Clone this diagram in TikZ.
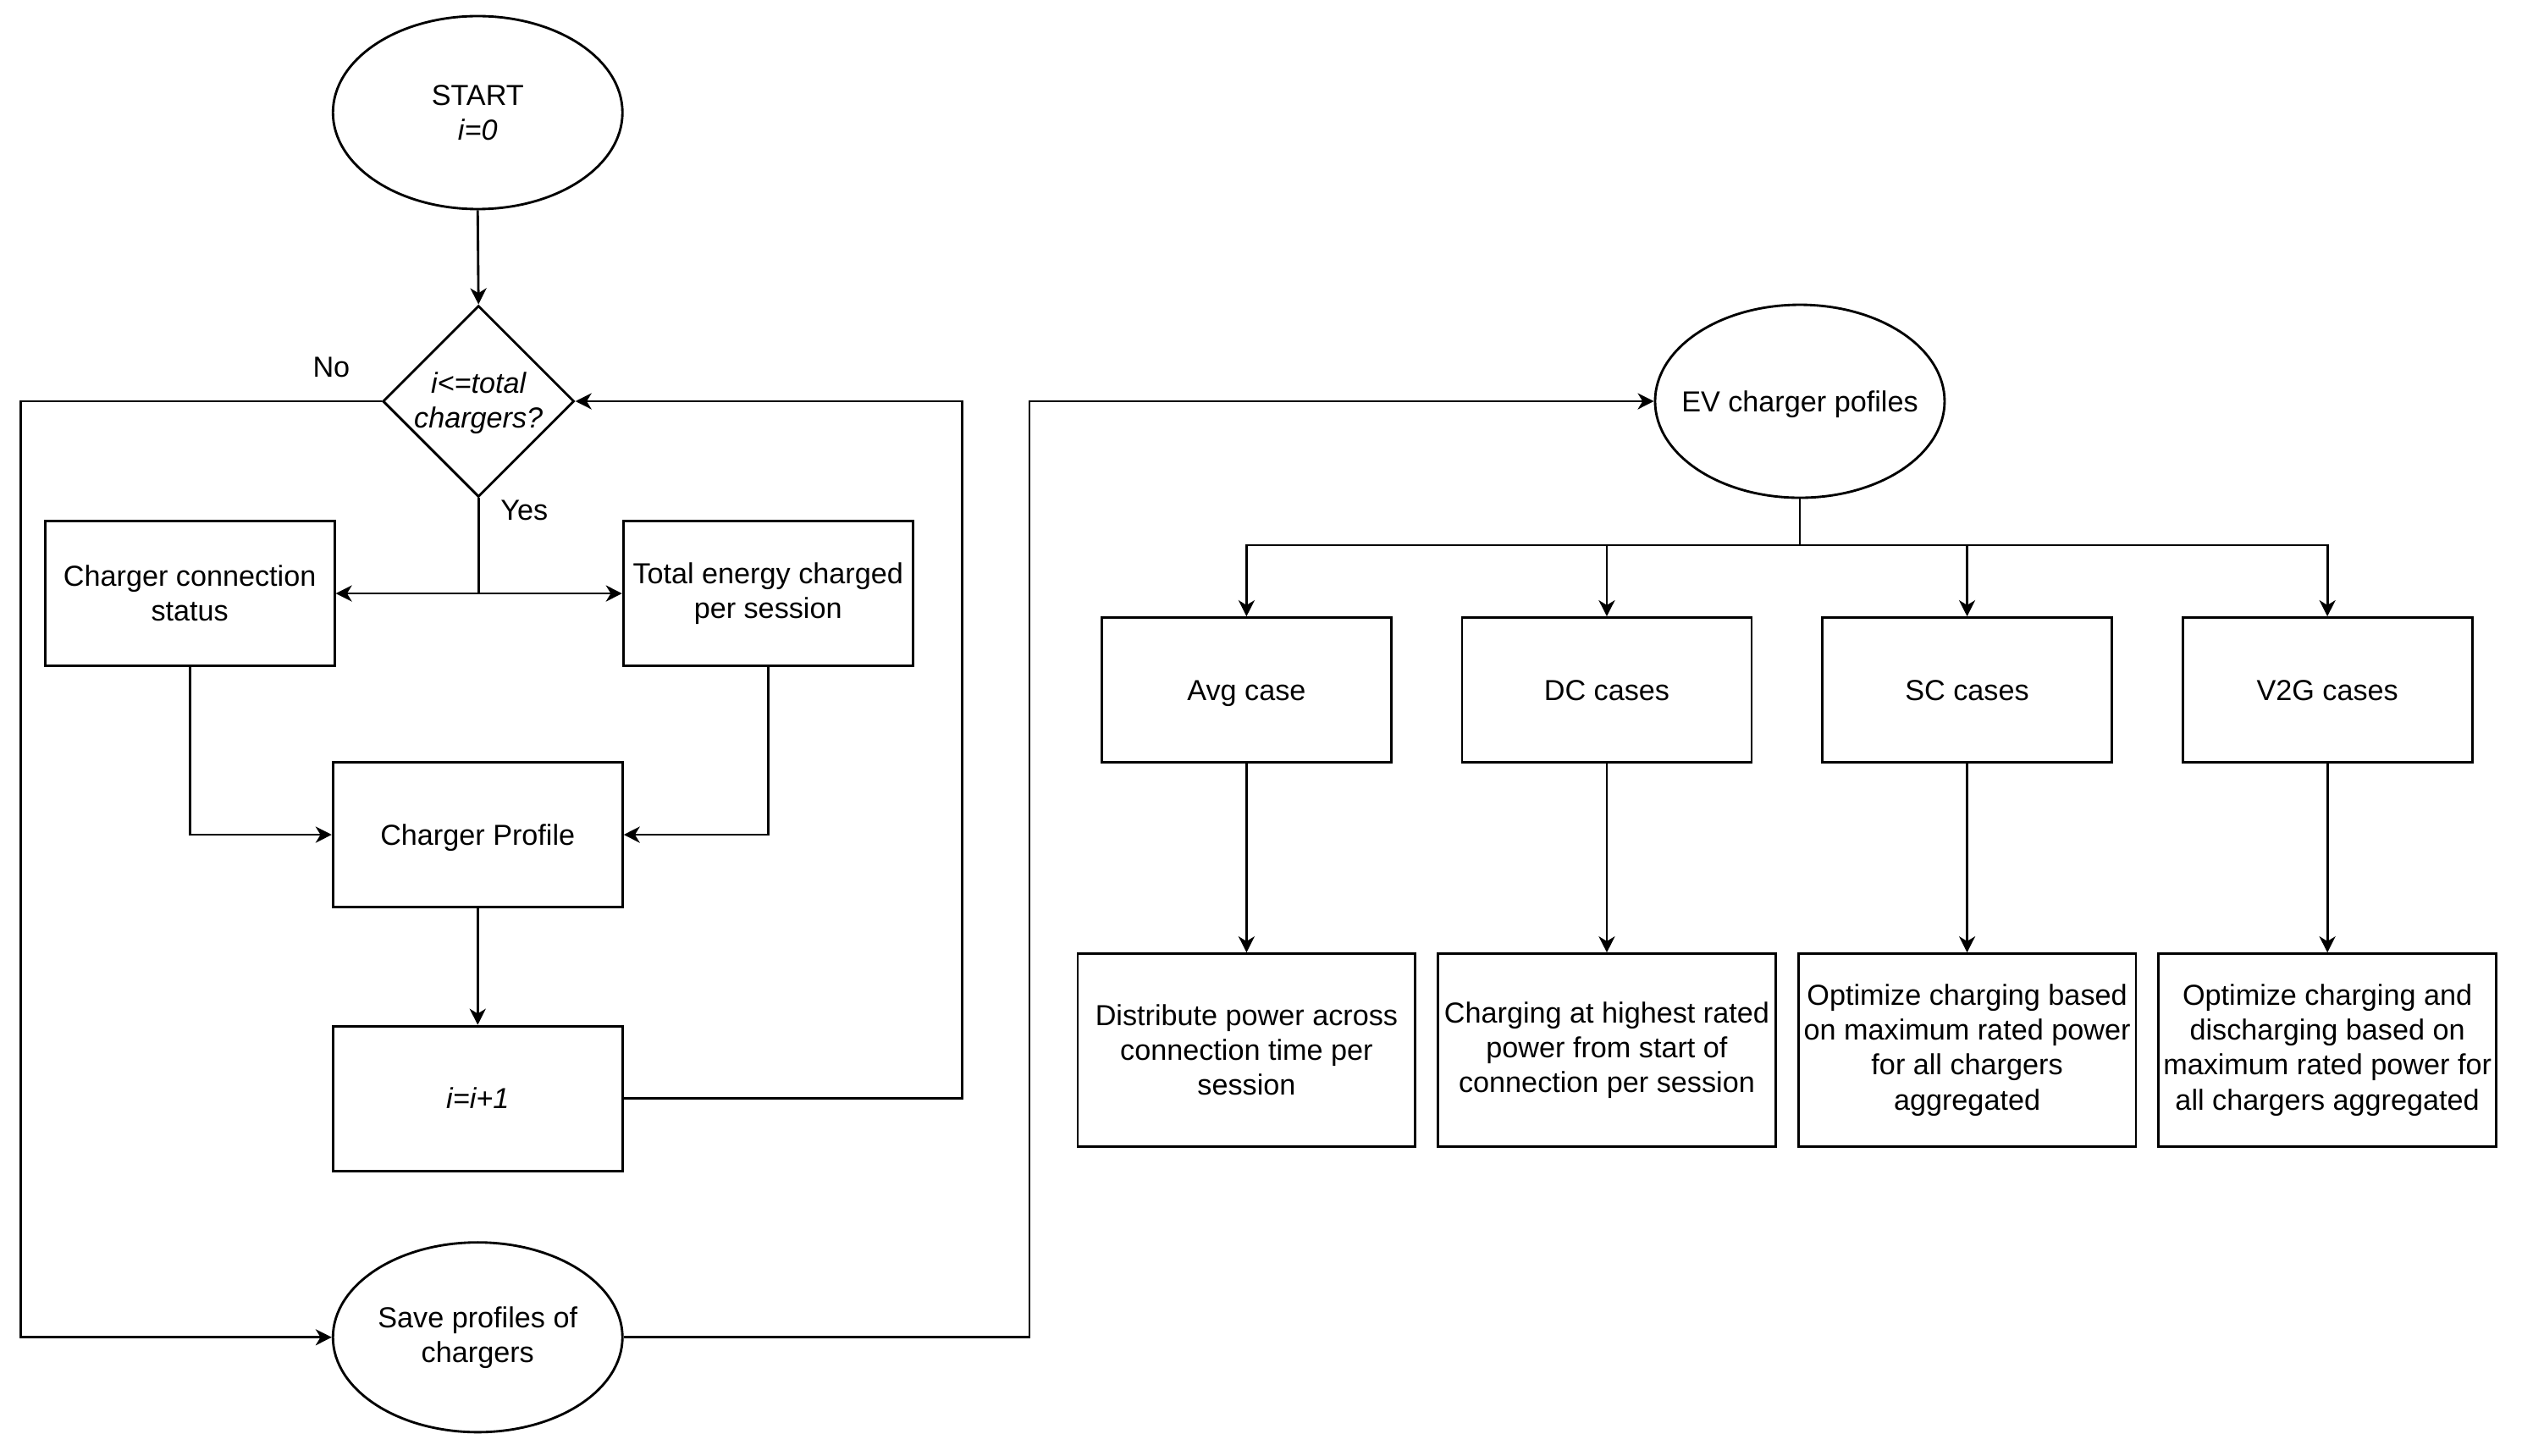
\documentclass[tikz,border=0pt]{standalone}
\usepackage{fontspec}
\setmainfont{Liberation Sans}
\usetikzlibrary{shapes.geometric,arrows.meta}
\begin{document}
\begin{tikzpicture}[x=1pt,y=-1pt,
  every node/.style={font=\fontsize{18}{21.6}\selectfont, align=center, inner sep=0pt},
  boxa/.style={draw, line width=1.5pt, rectangle, minimum width=180pt, minimum height=90pt},
  boxb/.style={draw, line width=1.5pt, rectangle, minimum width=210pt, minimum height=120pt},
  oval/.style={draw, line width=1.5pt, ellipse, minimum width=180pt, minimum height=120pt},
  oneline/.style={text height=12.9pt, text depth=0pt},
  conn/.style={line width=1.5pt},
  arr/.style={line width=1.5pt, -{Stealth[length=10pt,width=10pt,inset=3pt]}}]
\useasboundingbox (0,0) rectangle (1568,905);
% left column
\node[oval] (start) at (297,70) {};
\node (starttext) at (start) {START\\\textit{i=0}};
\node[draw, line width=1.5pt, diamond, minimum width=119pt, minimum height=119pt, shape aspect=1] (dec) at (297.5,249.5) {};
\node[font=\fontsize{18}{21.6}\selectfont\itshape] (dectext) at (297.5,250.5) {i\textless=total\\chargers?};
\node[boxa] (ccs) at (118,369) {Charger connection\\status};
\node[boxa] (ten) at (477.5,369) {Total energy charged\\per session};
\node[boxa, oneline] (cp) at (297,519) {Charger Profile};
\node[boxa, oneline] (inc) at (297,683) {\textit{i=i+1}};
\node[oval, minimum height=118pt] (save) at (297,831.5) {};
\node (savetext) at (save) {Save profiles of\\chargers};
\node[oneline] (no) at (206,228) {No};
\node[oneline] (yes) at (326,317) {Yes};
% right part
\node[oval] (ev) at (1119,249.5) {};
\node[oneline] (evtext) at (ev) {EV charger pofiles};
\node[boxa, oneline] (avg) at (775,429) {Avg case};
\node[boxa, oneline] (dc) at (999,429) {DC cases};
\node[boxa, oneline] (sc) at (1223,429) {SC cases};
\node[boxa, oneline] (v2g) at (1447,429) {V2G cases};
\node[boxb] (d1) at (775,653) {Distribute power across\\connection time per\\session};
\node[boxb] (d2) at (999,653) {Charging at highest rated\\power from start of\\connection per session};
\node[boxb] (d3) at (1223,653) {Optimize charging based\\on maximum rated power\\for all chargers\\aggregated};
\node[boxb] (d4) at (1447,653) {Optimize charging and\\discharging based on\\maximum rated power for\\all chargers aggregated};
% coordinates
\coordinate (j1) at (297.5,369);
\coordinate (rloop) at (598,249.5);
\coordinate (lloop) at (12.8,249.5);
\coordinate (ljoin) at (640,249.5);
\coordinate (tj) at (1119,339);
% connectors
\draw[arr] (start.south) -- (dec.north);
\draw[conn] (dec.south) -- (j1);
\draw[arr] (j1) -- (ccs.east);
\draw[arr] (j1) -- (ten.west);
\draw[arr] (ccs.south) |- (cp.west);
\draw[arr] (ten.south) |- (cp.east);
\draw[arr] (cp.south) -- (inc.north);
\draw[arr] (inc.east) -| (rloop) -- (dec.east);
\draw[arr] (dec.west) -- (lloop) |- (save.west);
\draw[arr] (save.east) -| (ljoin) -- (ev.west);
\draw[conn] (ev.south) -- (tj);
\draw[arr] (tj) -| (avg.north);
\draw[arr] (tj) -| (dc.north);
\draw[arr] (tj) -| (sc.north);
\draw[arr] (tj) -| (v2g.north);
\draw[arr] (avg.south) -- (d1.north);
\draw[arr] (dc.south) -- (d2.north);
\draw[arr] (sc.south) -- (d3.north);
\draw[arr] (v2g.south) -- (d4.north);
\end{tikzpicture}
\end{document}
